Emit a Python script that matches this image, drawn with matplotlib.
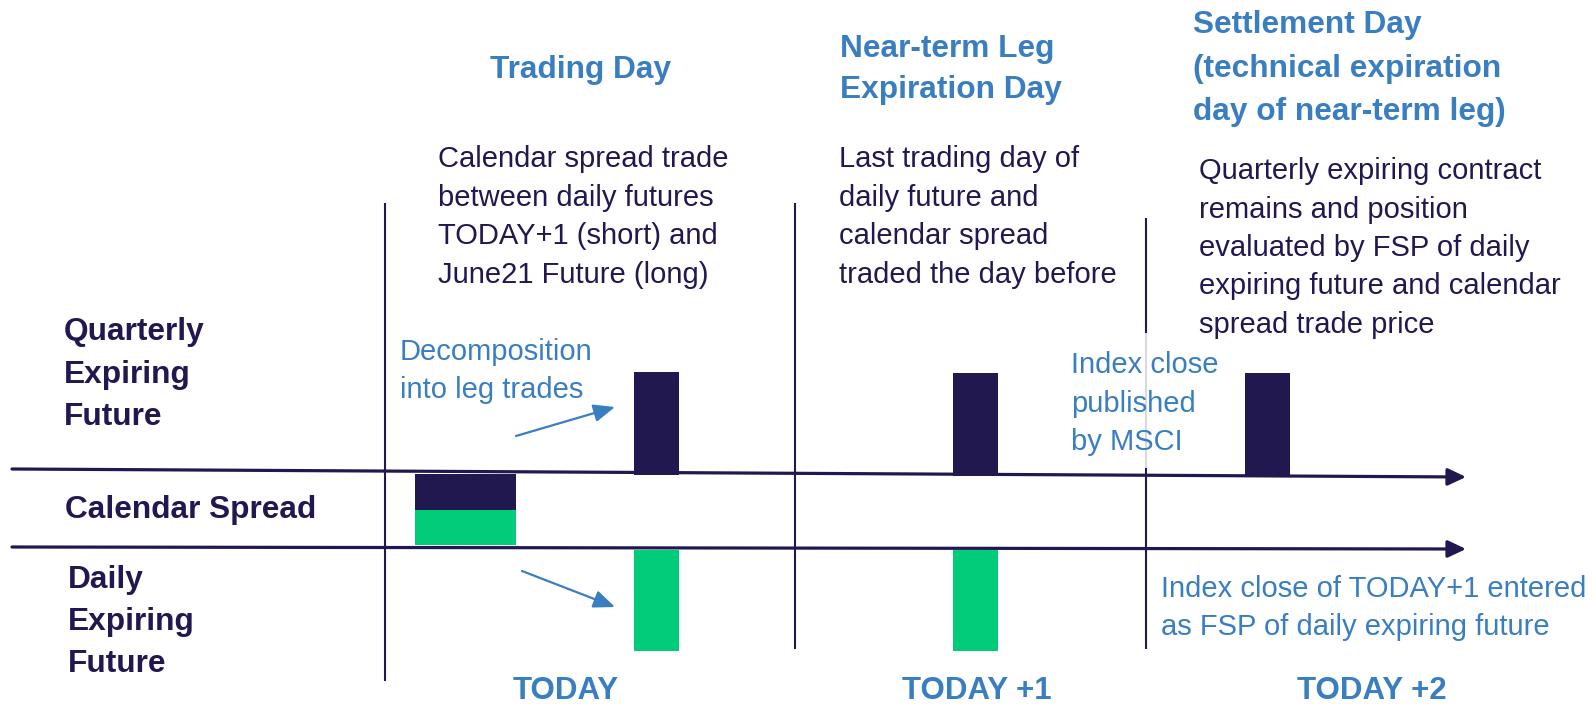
import matplotlib
matplotlib.use("Agg")
import matplotlib.pyplot as plt

# ---------------- data ----------------
days = ["TODAY", "TODAY +1", "TODAY +2"]
day_titles = [["Trading Day"],
              ["Near-term Leg", "Expiration Day"],
              ["Settlement Day", "(technical expiration", "day of near-term leg)"]]
day_notes = [["Calendar spread trade", "between daily futures", "TODAY+1 (short) and", "June21 Future (long)"],
             ["Last trading day of", "daily future and", "calendar spread", "traded the day before"],
             ["Quarterly expiring contract", "remains and position", "evaluated by FSP of daily",
              "expiring future and calendar", "spread trade price"]]
row_labels = [["Quarterly", "Expiring", "Future"], ["Calendar Spread"], ["Daily", "Expiring", "Future"]]
quarterly_position = [1, 1, 1]   # quarterly future position held on each day
daily_position = [1, 1, 0]       # daily expiring future position held on each day
spread_legs = [1, 1]             # calendar spread: short daily leg + long quarterly leg
decomp_note = ["Decomposition", "into leg trades"]
msci_note = ["Index close", "published", "by MSCI"]
fsp_note = ["Index close of TODAY+1 entered", "as FSP of daily expiring future"]

# ---------------- style ----------------
NAVY = "#211850"
GREEN = "#00cc7a"
BLUE = "#3a7ec2"
LIGHT = "#d9d9e6"
FONT = ["Liberation Sans", "Arial", "DejaVu Sans"]
plt.rcParams["font.family"] = FONT

BOLD_SIZE = 22.8
BODY_SIZE = 21
DAY_SIZE = 22.5

W, H = 1594, 705
fig = plt.figure(figsize=(W / 100, H / 100), dpi=100)
ax = fig.add_axes([0, 0, 1, 1])
ax.set_xlim(0, W)
ax.set_ylim(H, 0)
ax.axis("off")

def lines(x, y0, dy, texts, **kw):
    for i, t in enumerate(texts):
        ax.text(x, y0 + i * dy, t, va="baseline", **kw)

# ---------------- grid lines ----------------
ax.plot([385, 385], [203, 681], color=NAVY, lw=1.5, solid_capstyle="butt")
ax.plot([795, 795], [203, 649], color=NAVY, lw=1.5, solid_capstyle="butt")
ax.plot([1146, 1146], [218, 333], color=NAVY, lw=1.5, solid_capstyle="butt")
ax.plot([1146, 1146], [333, 468], color=LIGHT, lw=1.5, solid_capstyle="butt")
ax.plot([1146, 1146], [468, 649], color=NAVY, lw=1.5, solid_capstyle="butt")

ax.annotate("", xy=(1466, 477), xytext=(12, 469),
            arrowprops=dict(arrowstyle="-|>,head_length=0.55,head_width=0.26",
                            mutation_scale=20, lw=2.3, color=NAVY, shrinkA=0, shrinkB=0))
ax.annotate("", xy=(1466, 549), xytext=(12, 547),
            arrowprops=dict(arrowstyle="-|>,head_length=0.55,head_width=0.26",
                            mutation_scale=20, lw=2.3, color=NAVY, shrinkA=0, shrinkB=0))

# ---------------- bars ----------------
bar_x = [656.5, 975.5, 1267.5]
bar_w = 45
q_base = [474.5, 475.5, 476]
q_h = 103
d_base = 550
d_h = 101
for i in range(len(days)):
    if quarterly_position[i]:
        ax.bar(bar_x[i], -q_h * quarterly_position[i], bottom=q_base[i], width=bar_w,
               color=NAVY, linewidth=0, zorder=3)
    if daily_position[i]:
        ax.bar(bar_x[i], d_h * daily_position[i], bottom=d_base, width=bar_w,
               color=GREEN, linewidth=0, zorder=3)

ax.bar(465.5, 36 * spread_legs[0], bottom=474, width=101, color=NAVY, linewidth=0, zorder=3)
ax.bar(465.5, 35 * spread_legs[1], bottom=510, width=101, color=GREEN, linewidth=0, zorder=3)

for (x0, y0), (x1, y1) in [((516, 436), (615, 407)), ((522, 571), (615, 607))]:
    ax.annotate("", xy=(x1, y1), xytext=(x0, y0),
                arrowprops=dict(arrowstyle="-|>,head_length=0.65,head_width=0.27",
                                mutation_scale=20, lw=1.6, color=BLUE, shrinkA=0, shrinkB=0))

# ---------------- text ----------------
lines(64, 340, 42.5, row_labels[0], fontsize=BOLD_SIZE, fontweight="bold", color=NAVY)
lines(65, 518, 42, row_labels[1], fontsize=BOLD_SIZE, fontweight="bold", color=NAVY)
lines(68, 588, 42, row_labels[2], fontsize=BOLD_SIZE, fontweight="bold", color=NAVY)

lines(581, 78, 41, day_titles[0], fontsize=BOLD_SIZE, fontweight="bold", color=BLUE, ha="center")
lines(840, 57, 41, day_titles[1], fontsize=BOLD_SIZE, fontweight="bold", color=BLUE)
lines(1193, 33, 43.5, day_titles[2], fontsize=BOLD_SIZE, fontweight="bold", color=BLUE)

lines(438, 167, 38.7, day_notes[0], fontsize=BODY_SIZE, color=NAVY)
lines(839, 167, 38.7, day_notes[1], fontsize=BODY_SIZE, color=NAVY)
lines(1199, 179, 38.5, day_notes[2], fontsize=BODY_SIZE, color=NAVY)

lines(400, 360, 38, decomp_note, fontsize=BODY_SIZE, color=BLUE)
lines(1071, 373, 38.5, msci_note, fontsize=BODY_SIZE, color=BLUE)
lines(1161, 597, 38, fsp_note, fontsize=BODY_SIZE, color=BLUE)

day_label_x = [566, 977, 1372]
for x, d in zip(day_label_x, days):
    ax.text(x, 699, d, ha="center", va="baseline", fontsize=DAY_SIZE, fontweight="bold", color=BLUE)

fig.savefig("out.png", dpi=100, facecolor="white")
